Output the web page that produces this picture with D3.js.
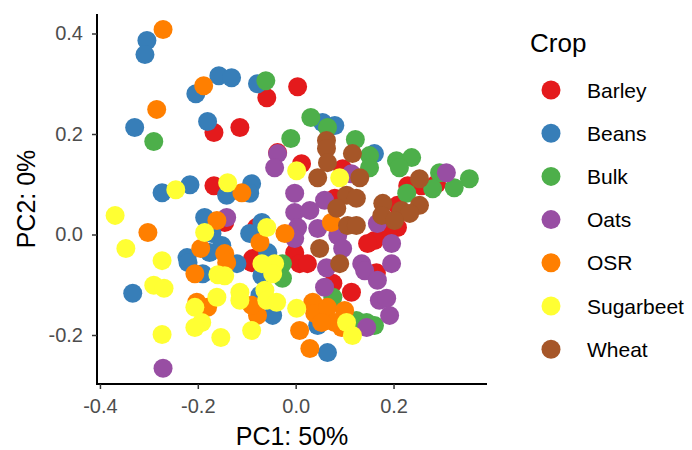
<html>
<head>
<script src="https://d3js.org/d3.v7.min.js"></script>
<style>
body { margin: 0; background: #fff; font-family: "Liberation Sans", Arial, sans-serif; }
.axis path, .axis line { stroke: #000; }
.axis text { fill: #4d4d4d; font-size: 20px; font-family: "Liberation Sans", Arial, sans-serif; }
</style>
</head>
<body>
<div id="chart"></div>
<script>
var crops = ["Barley", "Beans", "Bulk", "Oats", "OSR", "Sugarbeet", "Wheat"];
var colors = ["#E41A1C", "#377EB8", "#4DAF4A", "#984EA3", "#FF7F00", "#FFFF33", "#A65628"];
var xTicks = [-0.4, -0.2, 0.0, 0.2];
var yTicks = [-0.2, 0.0, 0.2, 0.4];

// [PC1, PC2]
var barley = [[-0.167,0.203],[0.004,0.294],[-0.059,0.272],[-0.114,0.213],[-0.167,0.097],[-0.145,0.024],
  [-0.037,0.163],[0.012,0.141],[0.096,0.131],[0.080,0.072],[-0.080,0.014],[-0.002,-0.036],[-0.088,-0.048],
  [0.229,0.097],[0.257,0.097],[0.288,0.101],[0.208,0.058],[0.208,0.014],[0.188,0.004],[0.161,-0.012],
  [0.147,-0.018],[-0.090,-0.056],[0.008,-0.058],[0.024,-0.058],[0.076,-0.097],[0.114,-0.115],[0.165,-0.076]];
var beans = [[-0.304,0.386],[-0.308,0.358],[-0.157,0.316],[-0.131,0.312],[-0.204,0.280],[-0.329,0.213],
  [-0.180,0.225],[-0.078,0.300],[0.055,0.223],[0.080,0.217],[-0.273,0.083],[-0.216,0.099],[-0.141,0.078],
  [-0.090,0.101],[-0.094,0.082],[-0.186,0.034],[-0.171,0.002],[-0.176,-0.036],[-0.151,-0.022],[-0.222,-0.046],
  [-0.069,0.024],[-0.094,0.002],[-0.057,-0.036],[-0.067,-0.058],[0.161,0.161],[-0.120,-0.058],[-0.190,-0.078],
  [-0.333,-0.117],[-0.069,-0.082],[-0.073,-0.121],[-0.047,-0.161],[0.045,-0.181],[0.065,-0.235],[-0.220,-0.056]];
var bulk = [[-0.290,0.185],[-0.061,0.306],[0.031,0.233],[0.065,0.213],[-0.010,0.191],[0.122,0.189],
  [0.151,0.157],[0.151,0.133],[0.206,0.147],[0.237,0.153],[0.212,0.133],[0.294,0.123],[0.355,0.111],
  [0.324,0.093],[0.280,0.091],[0.227,0.082],[-0.027,-0.058],[-0.027,-0.087],[0.076,-0.125],[0.124,-0.171],
  [0.145,-0.175],[0.161,-0.181]];
var oats = [[-0.037,0.161],[-0.043,0.133],[0.114,0.121],[0.308,0.123],[-0.141,0.034],[-0.002,0.082],
  [0.059,0.068],[-0.002,0.044],[0.029,0.048],[0.004,0.014],[0.045,0.012],[0.086,-0.002],[-0.002,-0.008],
  [0.096,-0.028],[0.167,0.022],[0.196,-0.018],[0.196,-0.058],[0.135,-0.058],[0.063,-0.066],[0.059,-0.105],
  [0.141,-0.072],[0.167,-0.091],[0.171,-0.131],[0.186,-0.127],[0.192,-0.161],[0.145,-0.185],[-0.271,-0.266]];
var osr = [[-0.271,0.408],[-0.188,0.296],[-0.284,0.249],[-0.302,0.004],[-0.161,0.028],[-0.194,-0.028],
  [-0.145,-0.038],[-0.110,0.083],[0.073,0.024],[-0.073,-0.016],[-0.022,0.002],[-0.206,-0.078],[-0.202,-0.135],
  [-0.180,-0.145],[-0.141,-0.056],[-0.078,-0.161],[-0.090,-0.141],[0.008,-0.191],[0.035,-0.135],[0.039,-0.157],
  [0.065,-0.145],[0.080,-0.175],[0.053,-0.175],[0.100,-0.151],[0.094,-0.185],[0.029,-0.227]];
var sugarbeet = [[-0.245,0.089],[-0.139,0.103],[-0.369,0.038],[-0.347,-0.028],[-0.273,-0.052],[-0.186,0.004],
  [0.002,0.127],[0.090,0.113],[-0.059,0.014],[-0.043,-0.058],[-0.159,-0.080],[-0.290,-0.101],[-0.269,-0.107],
  [-0.161,-0.125],[-0.206,-0.145],[-0.192,-0.175],[-0.206,-0.185],[-0.273,-0.199],[-0.153,-0.205],[-0.069,-0.058],
  [-0.047,-0.078],[-0.114,-0.115],[-0.114,-0.131],[-0.063,-0.111],[-0.059,-0.131],[-0.039,-0.135],[0.002,-0.147],
  [-0.090,-0.191],[0.104,-0.175],[0.116,-0.201],[-0.145,-0.082]];
var wheat = [[0.063,0.187],[0.063,0.171],[0.065,0.143],[0.045,0.113],[0.116,0.161],[0.104,0.078],
  [0.084,0.052],[0.106,0.018],[0.049,-0.028],[0.090,-0.058],[0.131,0.113],[0.124,0.072],[0.124,0.018],
  [0.253,0.111],[0.253,0.058],[0.178,0.062],[0.216,0.048],[0.233,0.042],[0.176,0.038],[0.202,0.028]];

var groups = [barley, beans, bulk, oats, osr, sugarbeet, wheat];
var points = [];
groups.forEach(function(g, i) {
  g.forEach(function(p) { points.push({crop: crops[i], pc1: p[0], pc2: p[1]}); });
});

var width = 692, height = 450;
var radius = 9.5;

var xScale = d3.scaleLinear().domain([-0.406, 0.391]).range([97, 487]);
var yScale = d3.scaleLinear().domain([-0.2975, 0.4388]).range([384, 14]);
var color = d3.scaleOrdinal().domain(crops).range(colors);

var svg = d3.select("#chart").append("svg")
  .attr("width", width)
  .attr("height", height);

/* points */
svg.append("g")
  .selectAll("circle")
  .data(points).enter()
  .append("circle")
  .attr("cx", d => xScale(d.pc1))
  .attr("cy", d => yScale(d.pc2))
  .attr("r", radius)
  .style("fill", d => color(d.crop));

/* axes */
var xAxis = d3.axisBottom(xScale).tickValues(xTicks).tickSize(5).tickPadding(10)
  .tickFormat(d => d.toFixed(1));
var yAxis = d3.axisLeft(yScale).tickValues(yTicks).tickSize(5).tickPadding(9)
  .tickFormat(d => d.toFixed(1));

var gx = svg.append("g")
  .attr("class", "x axis")
  .attr("transform", "translate(0,384)")
  .call(xAxis);
gx.select(".domain").attr("d", "M96,0H487").style("stroke-width", 2);
gx.selectAll(".tick line").style("stroke", "#333").style("stroke-width", 1.5);

var gy = svg.append("g")
  .attr("class", "y axis")
  .attr("transform", "translate(97,0)")
  .call(yAxis);
gy.select(".domain").attr("d", "M0,14V385").style("stroke-width", 2);
gy.selectAll(".tick line").style("stroke", "#333").style("stroke-width", 1.5);

/* axis titles */
svg.append("text")
  .attr("x", 292)
  .attr("y", 445)
  .attr("text-anchor", "middle")
  .style("font-size", "25px")
  .text("PC1: 50%");

svg.append("text")
  .attr("transform", "translate(35,199) rotate(-90)")
  .attr("text-anchor", "middle")
  .style("font-size", "25px")
  .text("PC2: 0%");

/* legend */
var legend = svg.append("g").attr("transform", "translate(530,0)");
legend.append("text")
  .attr("x", 0)
  .attr("y", 52)
  .style("font-size", "26px")
  .text("Crop");

var items = legend.selectAll(".item")
  .data(crops).enter()
  .append("g")
  .attr("class", "item")
  .attr("transform", (d, i) => `translate(0, ${90 + i * 43.2})`);
items.append("circle")
  .attr("cx", 21)
  .attr("cy", 0)
  .attr("r", radius)
  .style("fill", d => color(d));
items.append("text")
  .attr("x", 57)
  .attr("y", 7.5)
  .style("font-size", "21px")
  .text(d => d);
</script>
</body>
</html>
